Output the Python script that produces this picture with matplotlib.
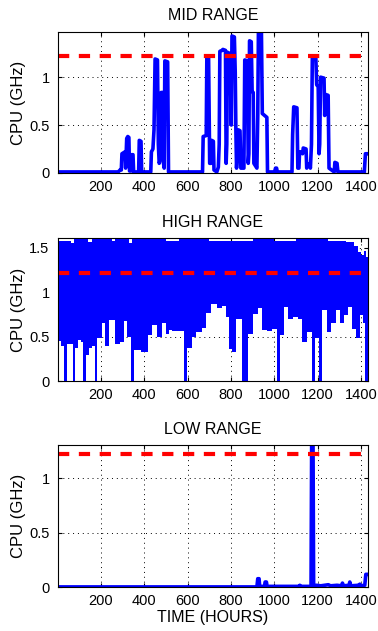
import matplotlib
matplotlib.use('Agg')
import matplotlib.pyplot as plt

plt.rcParams['font.family'] = ['Liberation Sans', 'DejaVu Sans']

# threshold line (GHz)
threshold = 1.22
x_range = (1, 1432)
x_ticks = [200, 400, 600, 800, 1000, 1200, 1400]

# MID RANGE host: hour / cpu points
mid_hours = [1, 280, 288, 294, 297, 304, 311, 314, 319, 324, 329, 332, 339, 341, 348, 351,
             374, 377, 385, 388,
             430, 433, 440, 445, 450, 461, 465, 469, 472, 474, 478, 485, 489, 492, 495, 508, 512,
             669, 672, 686, 689, 697, 702, 708, 711, 719, 722, 735, 742, 746,
             749, 760, 763, 775, 778, 781, 784, 793, 797, 802, 805, 816, 820, 823,
             826, 830, 834, 842, 846, 860, 864, 876, 880, 883, 886, 894, 898, 903, 906,
             920, 924, 927, 941, 945, 966, 969,
             1002, 1006, 1011, 1014,
             1082, 1085, 1090, 1105, 1109, 1114, 1117, 1127, 1131, 1134, 1147, 1150,
             1154, 1163, 1167, 1172, 1176, 1192, 1196, 1203, 1207, 1210, 1214, 1230,
             1233, 1236, 1249, 1253,
             1277, 1280, 1290, 1294, 1416, 1421, 1430]
mid_cpu = [0.01, 0.01, 0.03, 0.03, 0.20, 0.21, 0.22, 0.05, 0.36, 0.38, 0.37, 0.02, 0.02, 0.19, 0.19, 0.01,
           0.01, 0.34, 0.33, 0.01,
           0.01, 0.22, 0.25, 0.45, 1.19, 1.18, 0.30, 0.10, 0.12, 0.30, 0.84, 0.84, 0.10, 0.05, 1.17, 1.16, 0.01,
           0.01, 0.38, 0.39, 1.22, 1.21, 0.10, 0.10, 0.34, 0.33, 0.03, 0.01, 0.06, 0.30,
           1.27, 1.28, 1.29, 1.28, 0.10, 0.30, 1.26, 1.25, 1.10, 0.50, 1.43, 1.42, 1.05, 0.45,
           0.05, 0.20, 0.45, 0.44, 0.05, 0.05, 1.18, 1.17, 0.10, 0.20, 1.38, 1.37, 0.85, 0.84, 0.10,
           0.05, 0.60, 1.47, 1.46, 0.62, 0.58, 0.01,
           0.01, 0.05, 0.05, 0.01,
           0.01, 0.40, 0.69, 0.68, 0.05, 0.05, 0.22, 0.22, 0.20, 0.26, 0.25, 0.05,
           0.09, 0.09, 0.05, 0.30, 1.22, 1.21, 0.92, 0.90, 0.20, 0.30, 1.00, 0.99,
           0.60, 0.82, 0.81, 0.05,
           0.01, 0.11, 0.10, 0.01, 0.01, 0.20, 0.20]

# HIGH RANGE host: the trace fills a band; lower edge (with drops to 0) and upper edge
high_hours = [1, 15, 30, 44, 69, 81, 96, 107, 118, 130, 145, 158, 172, 184, 207, 219, 238, 265,
              290, 305, 322, 338, 352, 385, 415, 438, 461, 484, 499, 514, 530, 585, 599, 622,
              637, 668, 683, 706, 735, 758, 776, 792, 807, 823, 853, 878, 904, 927, 942, 966,
              989, 1011, 1025, 1047, 1065, 1085, 1108, 1127, 1150, 1176, 1190, 1206, 1221,
              1242, 1262, 1284, 1304, 1324, 1342, 1357, 1376, 1396, 1411, 1421, 1432]
high_low = [0.45, 0.40, 0.0, 0.42, 0.0, 0.37, 0.46, 0.44, 0.0, 0.29, 0.37, 0.40, 0.0, 0.48, 0.65,
            0.39, 0.69, 0.42, 0.44, 0.68, 0.50, 0.0, 0.35, 0.33, 0.52, 0.63, 0.50, 0.65, 0.53,
            0.57, 0.56, 0.0, 0.37, 0.50, 0.55, 0.60, 0.77, 0.87, 0.82, 0.85, 0.72, 0.36, 0.33,
            0.70, 0.0, 0.53, 0.76, 0.82, 0.58, 0.56, 0.59, 0.0, 0.52, 0.83, 0.70, 0.72, 0.70,
            0.44, 0.55, 0.0, 0.48, 0.0, 0.80, 0.55, 0.65, 0.80, 0.65, 0.74, 0.83, 0.59, 0.48,
            0.74, 0.65, 0.0, 0.0]
top_hours = [1, 60, 75, 140, 160, 250, 265, 330, 345, 500, 560, 700, 900, 1000, 1100, 1250,
             1330, 1370, 1385, 1400, 1415, 1425, 1432]
high_up = [1.58, 1.55, 1.60, 1.56, 1.60, 1.57, 1.60, 1.55, 1.60, 1.58, 1.60, 1.58, 1.60, 1.57,
           1.60, 1.58, 1.56, 1.52, 1.45, 1.42, 1.46, 1.40, 1.40]

# LOW RANGE host
low_hours = [1, 920, 924, 930, 933, 955, 958, 964, 967, 1115, 1118, 1121, 1170, 1173, 1179,
             1182, 1195, 1215, 1250, 1260, 1290, 1310, 1315, 1320, 1345, 1349, 1353, 1390,
             1395, 1400, 1418, 1423, 1430]
low_cpu = [0.005, 0.005, 0.08, 0.08, 0.01, 0.01, 0.05, 0.05, 0.01, 0.01, 0.02, 0.01, 0.01, 1.4, 1.4,
           0.01, 0.02, 0.015, 0.025, 0.015, 0.02, 0.015, 0.04, 0.015, 0.02, 0.05, 0.015, 0.02,
           0.03, 0.015, 0.02, 0.12, 0.12]

titles = ['MID RANGE', 'HIGH RANGE', 'LOW RANGE']
title_pads = [9, 7.5, 7.5]
y_tops = [1.47, 1.61, 1.305]
y_ticks = [[0, 0.5, 1], [0, 0.5, 1, 1.5], [0, 0.5, 1]]

fig = plt.figure(figsize=(3.78, 6.31), dpi=100)
boxes = [[0.153, 0.726, 0.820, 0.223],
         [0.153, 0.396, 0.820, 0.227],
         [0.153, 0.069, 0.820, 0.226]]
axes = [fig.add_axes(b) for b in boxes]

blue = '#0000ff'
axes[0].plot(mid_hours, mid_cpu, color=blue, lw=2.6)
axes[1].fill_between(high_hours, high_low, 1.0, step='post', color=blue, lw=0)
axes[1].fill_between(top_hours, 0.95, high_up, step='post', color=blue, lw=0)
axes[2].plot(low_hours, low_cpu, color=blue, lw=2.6)

for ax, title, pad, top, yt in zip(axes, titles, title_pads, y_tops, y_ticks):
    ax.set_axisbelow(True)
    ax.axhline(threshold, color='#ff0000', lw=3, linestyle=(0, (2.7, 2.3)), zorder=3)
    ax.set_xlim(*x_range)
    ax.set_ylim(0, top)
    ax.set_xticks(x_ticks)
    ax.set_yticks(yt)
    ax.set_yticklabels(['%g' % v for v in yt])
    ax.grid(True, linestyle=(0, (1, 4)), color='black', lw=0.7)
    ax.tick_params(direction='in', labelsize=10.5, length=3, top=True, right=True)
    ax.tick_params(axis='x', pad=5)
    ax.tick_params(axis='y', pad=6)
    for s in ax.spines.values():
        s.set_linewidth(0.8)
        s.set_zorder(4)
    ax.set_title(title, fontsize=11.5, pad=pad)
    ax.set_ylabel('CPU (GHz)', fontsize=12, labelpad=2)

axes[2].set_xlabel('TIME (HOURS)', fontsize=11.5, labelpad=1)

fig.savefig('out.png', dpi=100)
